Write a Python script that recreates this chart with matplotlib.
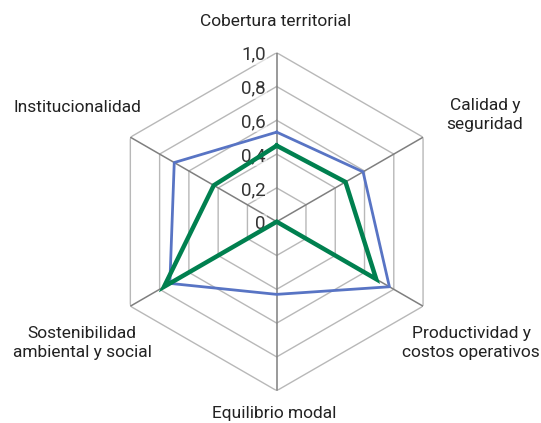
import numpy as np
import matplotlib
matplotlib.use("Agg")
import matplotlib.pyplot as plt

plt.rcParams['font.family'] = ['Roboto', 'DejaVu Sans']

categories = ["Cobertura territorial", "Calidad y\nseguridad", "Productividad y\ncostos operativos",
              "Equilibrio modal", "Sostenibilidad\nambiental y social", "Institucionalidad"]
serie_azul = [0.53, 0.59, 0.77, 0.43, 0.73, 0.70]
serie_verde = [0.45, 0.47, 0.68, 0.00, 0.77, 0.43]
ring_values = [0.2, 0.4, 0.6, 0.8, 1.0]
tick_labels = ["0", "0,2", "0,4", "0,6", "0,8", "1,0"]

W, H = 541, 423
fig = plt.figure(figsize=(W / 100, H / 100), dpi=100)
cx, cy, R = 276.7, 221.7, 169.0
ax = fig.add_axes([(cx - R) / W, (H - cy - R) / H, 2 * R / W, 2 * R / H], projection='polar')
ax.set_theta_zero_location('N')
ax.set_theta_direction(-1)
ax.set_ylim(0, 1)
ax.grid(False)
ax.spines['polar'].set_visible(False)
ax.set_xticks([])
ax.set_yticks([])
ax.patch.set_alpha(0)

n = len(categories)
angles = np.linspace(0, 2 * np.pi, n, endpoint=False)
closed = np.concatenate([angles, angles[:1]])

for r in ring_values:
    ax.plot(closed, [r] * (n + 1), color='#b8b8b8', lw=1.0, zorder=1)
for a in angles:
    ax.plot([a, a], [0, 1], color='#7f7f7f', lw=1.1, zorder=1)

for i, lab in enumerate(tick_labels):
    r = i * 0.2
    ax.annotate(lab, xy=(0, r), xytext=(-8, -1.5), textcoords='offset points',
                ha='right', va='center', fontsize=13.5, color='#333333', zorder=2,
                bbox=dict(boxstyle='square,pad=0.05', fc='white', ec='none', alpha=0.55))

ax.plot(closed, serie_azul + serie_azul[:1], color='#5874c4', lw=2.0, zorder=3)
ax.plot(closed, serie_verde + serie_verde[:1], color='#00804f', lw=3.2, zorder=4,
        solid_joinstyle='miter')

label_pos = [(276, 22), (485, 115), (471, 343), (274, 413), (82, 343), (77, 107)]
for lab, (x, y) in zip(categories, label_pos):
    fig.text(x / W, 1 - y / H, lab, ha='center', va='center', fontsize=12.5,
             color='#222222', linespacing=1.4)

fig.savefig("out.png", dpi=100)
